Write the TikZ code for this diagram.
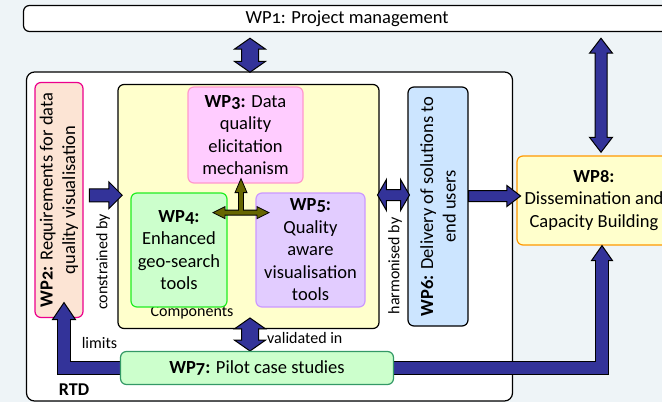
\documentclass[tikz,border=0pt]{standalone}
\usepackage{fontspec}
\setmainfont{Carlito}[Numbers=OldStyle]
\usetikzlibrary{shapes.arrows,calc}
\pgfdeclarelayer{fg}
\pgfsetlayers{main,fg}
\definecolor{bgcol}{HTML}{EEF4F7}
\definecolor{wpblue}{HTML}{333399}
\definecolor{wpolive}{HTML}{666600}
\definecolor{fillpeach}{HTML}{FCE4D4}
\definecolor{fillyellow}{HTML}{FFFFCC}
\definecolor{fillpink}{HTML}{FFCCFF}
\definecolor{linepink}{HTML}{FF99CC}
\definecolor{fillgreen}{HTML}{CCFFCC}
\definecolor{linegreen}{HTML}{22EE22}
\definecolor{fillviolet}{HTML}{E2CCFF}
\definecolor{lineviolet}{HTML}{CC99FF}
\definecolor{fillblue}{HTML}{CCE5FF}
\definecolor{linesea}{HTML}{339966}
\definecolor{lineorange}{HTML}{FF9900}

\begin{document}
\begin{tikzpicture}[x=1pt,y=-1pt,
    wpbox/.style={draw=black,line width=1.2pt,rounded corners=6pt,inner sep=0pt,align=center,font=\fontsize{18.5}{22.5}\selectfont},
    lbl/.style={inner sep=0pt,font=\fontsize{16}{19}\selectfont},
    fatarrow/.style={single arrow,draw=black,fill=wpblue,line width=1pt,inner xsep=0pt},
    fatdouble/.style={double arrow,draw=black,fill=wpblue,line width=1pt,inner xsep=0pt},
    bentedge/.style={draw=black,line width=14pt},
    bentcore/.style={draw=wpblue,line width=11.6pt},
    bentfill/.style={draw=black,fill=wpblue,line width=1pt,line join=miter},
    olivefill/.style={draw=black,fill=wpolive,line width=0.8pt,line join=miter}]
    \useasboundingbox (0,0) rectangle (662,402);
    \clip (0,0) rectangle (662,402);
    \fill [bgcol] (0,0) rectangle (662,402);
    \node [wpbox,fill=white,minimum width=647pt,minimum height=26pt] (wp1) at (347,18.5) {WP1: Project management};
    \node [wpbox,fill=white,minimum width=486pt,minimum height=329pt,rounded corners=8pt] (rtd) at (269.5,236.5) {};
    \node [lbl,font=\fontsize{18}{21}\selectfont\bfseries] (rtdlbl) at (74,390) {RTD};
    \node [wpbox,draw=magenta,fill=fillpeach,rotate=90,minimum width=235pt,minimum height=48pt] (wp2) at (59,200) {\textbf{WP2:} Requirements for data\\quality visualisation};
    \node [wpbox,fill=fillyellow,minimum width=261pt,minimum height=244pt] (comp) at (248.5,206.5) {};
    \node [lbl] (complbl) at (192,313) {Components};
    \node [wpbox,draw=linepink,fill=fillpink,minimum width=115pt,minimum height=96pt] (wp3) at (245.5,135) {\textbf{WP3:} Data\\quality\\elicitation\\mechanism};
    \node [wpbox,draw=linegreen,fill=fillgreen,minimum width=96pt,minimum height=114pt] (wp4) at (179,250) {\textbf{WP4:}\\Enhanced\\geo-search\\tools};
    \node [wpbox,draw=lineviolet,fill=fillviolet,minimum width=109pt,minimum height=114pt] (wp5) at (310.5,250) {\textbf{WP5:}\\Quality\\aware\\visualisation\\tools};
    \node [wpbox,fill=fillblue,rotate=90,minimum width=239pt,minimum height=60pt] (wp6) at (438,206.5) {\textbf{WP6:} Delivery of solutions to\\end users};
    \node [wpbox,draw=lineorange,fill=fillyellow,minimum width=154pt,minimum height=89pt] (wp8) at (594,200.5) {\textbf{WP8:}\\Dissemination and\\Capacity Building};
    \begin{pgfonlayer}{fg}
    \node [wpbox,draw=linesea,fill=fillgreen,minimum width=273pt,minimum height=33pt] (wp7) at (257,368) {\textbf{WP7:} Pilot case studies};
    \end{pgfonlayer}
    \node [lbl,rotate=90] (constr) at (103,262) {constrained by};
    \node [lbl,rotate=90] (harm) at (395,266) {harmonised by};
    \node [lbl] (limits) at (99.5,343) {limits};
    \node [lbl,anchor=west] (valid) at (267,338) {validated in};
    \node [fatarrow,minimum height=33pt,inner ysep=6pt,single arrow head extend=7pt] (a2c) at ($(wp2.south)!0.5!(comp.west)+(2,-8)$) {};
    \node [fatdouble,rotate=90,minimum height=34pt,inner ysep=8pt,double arrow head extend=7pt,double arrow tip angle=110] (a1r) at ($(wp1.south -| comp.north)!0.5!(rtd.north -| comp.north)+(1.5,3.5)$) {};
    \node [fatdouble,rotate=90,minimum height=33pt,inner ysep=8pt,double arrow head extend=7pt,double arrow tip angle=110] (ac7) at ($(comp.south)!0.5!(comp.south |- wp7.north)+(1.5,-5.5)$) {};
    \node [fatdouble,minimum height=32pt,inner ysep=5pt,double arrow head extend=10pt,double arrow tip angle=120] (ac6) at ($(comp.east)!0.5!(wp6.north)+(0,-11.5)$) {};
    \node [fatarrow,minimum height=52pt,inner ysep=5pt,single arrow head extend=5pt,single arrow tip angle=75] (a68) at ($(wp6.south)!0.5!(wp8.west)+(-1.5,-7.5)$) {};
    \node [fatdouble,rotate=90,minimum height=114pt,inner ysep=5.5pt,double arrow head extend=5.5pt,double arrow tip angle=75] (a18) at ($(wp8.north |- wp1.south)!0.5!(wp8.north)+(7,1.5)$) {};
    \coordinate (limtip) at ($(wp2.west)+(5,-15.5)$);
    \coordinate (limbase) at ($(limtip)+(0,17)$);
    \draw [bentedge] (wp7.west) -| (limbase);
    \filldraw [bentfill] ($(limbase)+(-11.5,0)$) -- (limtip) -- ($(limbase)+(11.5,0)$) -- cycle;
    \draw [bentcore] (wp7.west) -| ($(limbase)+(0,-2)$);
    \coordinate (distip) at ($(wp8.south)+(8,0)$);
    \coordinate (disbase) at ($(distip)+(0,15)$);
    \draw [bentedge] (wp7.east) -| (disbase);
    \filldraw [bentfill] ($(disbase)+(-10.5,0)$) -- (distip) -- ($(disbase)+(10.5,0)$) -- cycle;
    \draw [bentcore] (wp7.east) -| ($(disbase)+(0,-2)$);
    \coordinate (hub) at ($(wp3.south)+(-4.5,29)$);
    \filldraw [olivefill] (hub) ++(-28,0) -- ++(12,-6) -- ++(0,3.5) -- ++(13.5,0) -- ++(0,-17.5) -- ++(-3.5,0) -- ++(6,-14) -- ++(6,14) -- ++(-3.5,0) -- ++(0,17.5) -- ++(13.5,0) -- ++(0,-3.5) -- ++(12,6) -- ++(-12,6) -- ++(0,-3.5) -- ++(-32,0) -- ++(0,3.5) -- cycle;
\end{tikzpicture}
\end{document}
